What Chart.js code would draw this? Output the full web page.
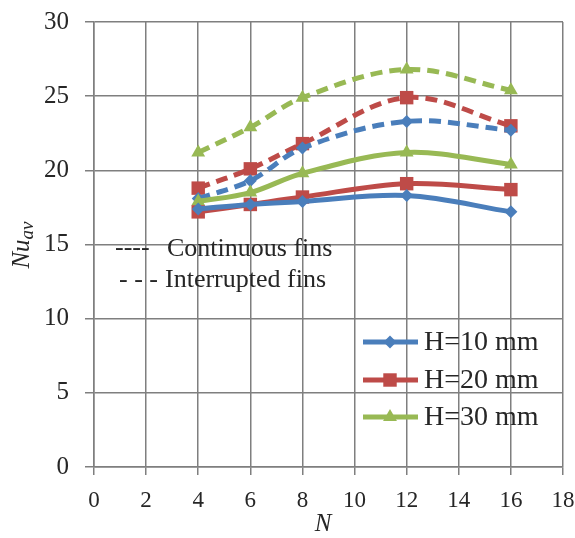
<!DOCTYPE html>
<html>
<head>
<meta charset="utf-8">
<script src="https://cdn.jsdelivr.net/npm/chart.js@4/dist/chart.umd.min.js"></script>
<style>
  body { margin: 0; background: #fff; }
  #wrap { width: 575px; height: 538px; }
</style>
</head>
<body>
<div id="wrap"><canvas id="nuChart"></canvas></div>
<script>
let finCounts = [4, 6, 8, 12, 16];
let xTicks = [0, 2, 4, 6, 8, 10, 12, 14, 16, 18];
let yTicks = [0, 5, 10, 15, 20, 25, 30];

// continuous fins
let h10Cont = [17.4, 17.7, 17.9, 18.3, 17.2];
let h20Cont = [17.2, 17.7, 18.2, 19.1, 18.7];
let h30Cont = [17.9, 18.5, 19.8, 21.2, 20.4];
// interrupted fins
let h10Int = [18.1, 19.3, 21.5, 23.3, 22.7];
let h20Int = [18.8, 20.1, 21.8, 24.9, 23.0];
let h30Int = [21.2, 22.9, 24.9, 26.8, 25.4];

let seriesNames = ['H=10 mm', 'H=20 mm', 'H=30 mm'];
let colors = ['#4a7ebb', '#be4b48', '#98b954'];
let markers = ['rectRot', 'rect', 'triangle'];
let markerSizes = [6.5, 9.5, 8];

const serif = "'Liberation Serif', 'Times New Roman', serif";
const textColor = '#262626';

function pts(vals) {
  return vals.map((v, i) => ({ x: finCounts[i], y: v }));
}

function makeSet(vals, idx, dashed) {
  return {
    label: seriesNames[idx] + (dashed ? ' interrupted' : ''),
    data: pts(vals),
    borderColor: colors[idx],
    backgroundColor: colors[idx],
    borderWidth: 5,
    borderDash: dashed ? [12, 7] : [],
    pointStyle: markers[idx],
    pointRadius: markerSizes[idx],
    pointBorderWidth: 0,
    tension: 0.35,
    fill: false
  };
}

// legend box + annotations + axis titles
const extras = {
  id: 'extras',
  afterDraw(chart) {
    const ctx = chart.ctx;
    ctx.save();
    ctx.fillStyle = textColor;
    ctx.font = '26px ' + serif;
    ctx.textBaseline = 'middle';
    ctx.textAlign = 'left';
    ctx.fillText('----', 115, 248);
    ctx.fillText('Continuous fins', 167, 249);
    ctx.fillText('- - -', 119, 280);
    ctx.fillText('Interrupted fins', 165, 280);

    const ys = [342, 380, 417];
    ctx.font = '28px ' + serif;
    for (let i = 0; i < 3; i++) {
      ctx.strokeStyle = colors[i];
      ctx.lineWidth = 5;
      ctx.setLineDash([]);
      ctx.beginPath();
      ctx.moveTo(363, ys[i]);
      ctx.lineTo(418, ys[i]);
      ctx.stroke();
      ctx.fillStyle = colors[i];
      Chart.helpers.drawPoint(ctx, { pointStyle: markers[i], radius: markerSizes[i], rotation: 0, borderWidth: 0 }, 390, ys[i]);
      ctx.fillStyle = textColor;
      ctx.fillText(seriesNames[i], 424, ys[i] + 1);
    }

    // x axis title
    ctx.font = 'italic 25px ' + serif;
    ctx.textAlign = 'center';
    ctx.fillText('N', 323, 524);

    // y axis title: Nu with subscript av
    ctx.translate(22, 245);
    ctx.rotate(-Math.PI / 2);
    ctx.textAlign = 'left';
    ctx.font = 'italic 25px ' + serif;
    let w1 = ctx.measureText('Nu').width;
    ctx.font = 'italic 19px ' + serif;
    let w2 = ctx.measureText('av').width;
    let start = -(w1 + w2) / 2;
    ctx.font = 'italic 25px ' + serif;
    ctx.fillText('Nu', start, 0);
    ctx.font = 'italic 19px ' + serif;
    ctx.fillText('av', start + w1, 6);
    ctx.restore();
  }
};

let nuChart = new Chart(document.getElementById('nuChart'), {
  type: 'line',
  data: {
    datasets: [
      makeSet(h10Cont, 0, false),
      makeSet(h20Cont, 1, false),
      makeSet(h30Cont, 2, false),
      makeSet(h10Int, 0, true),
      makeSet(h20Int, 1, true),
      makeSet(h30Int, 2, true)
    ]
  },
  options: {
    responsive: true,
    maintainAspectRatio: false,
    animation: false,
    layout: { padding: { top: 22, right: 12, bottom: 0, left: 0 } },
    plugins: {
      legend: { display: false },
      tooltip: { enabled: false }
    },
    scales: {
      x: {
        type: 'linear',
        min: 0,
        max: 18,
        afterBuildTicks: (s) => { s.ticks = xTicks.map(v => ({ value: v })); },
        grid: { color: '#7f7f7f', lineWidth: 1.5, tickLength: 8 },
        border: { color: '#7f7f7f', width: 1.5 },
        ticks: { color: textColor, font: { family: serif, size: 23 }, padding: 12, maxRotation: 0 },
        afterFit: (s) => { s.height = 71; s.paddingLeft = 0; s.paddingRight = 0; }
      },
      y: {
        min: 0,
        max: 30,
        afterBuildTicks: (s) => { s.ticks = yTicks.map(v => ({ value: v })); },
        grid: { color: '#7f7f7f', lineWidth: 1.5, tickLength: 9 },
        border: { color: '#7f7f7f', width: 1.5 },
        ticks: { color: textColor, font: { family: serif, size: 25 }, padding: 16 },
        afterFit: (s) => { s.width = 94; s.paddingTop = 0; s.paddingBottom = 0; }
      }
    }
  },
  plugins: [extras]
});
</script>
</body>
</html>
